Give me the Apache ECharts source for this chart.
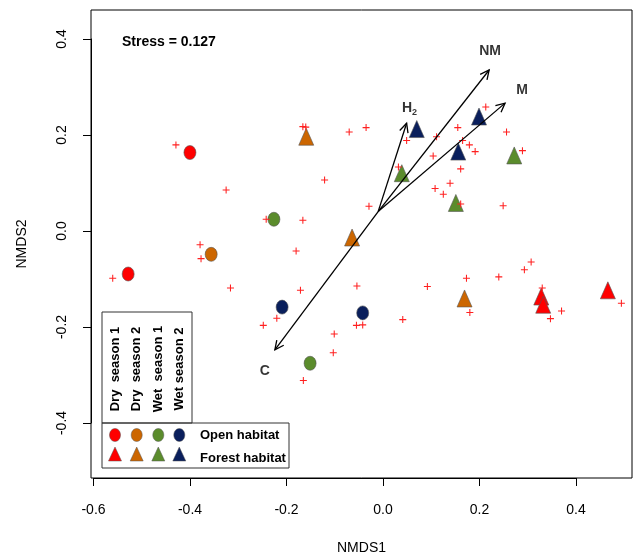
<!DOCTYPE html>
<html>
  <head>
    <meta charset="UTF-8">
    <title>NMDS ordination</title>
    <script src="https://cdn.jsdelivr.net/npm/echarts@6/dist/echarts.min.js"></script>
    <style>
      html, body { margin: 0; padding: 0; background: #fff; }
    </style>
  </head>
  <body>
    <div id="myChart" style="width: 635px;height:559px;"></div>
    <script type="text/javascript">
      // site scores (NMDS1, NMDS2)
      var dry1Open   = [[-0.400, 0.163], [-0.528, -0.090]];
      var dry2Open   = [[-0.356, -0.049]];
      var wet1Open   = [[-0.226, 0.024], [-0.151, -0.276]];
      var wet2Open   = [[-0.209, -0.159], [-0.042, -0.171]];
      var dry1Forest = [[0.328, -0.137], [0.332, -0.154], [0.466, -0.124]];
      var dry2Forest = [[-0.159, 0.196], [-0.064, -0.014], [0.169, -0.141]];
      var wet1Forest = [[0.039, 0.120], [0.151, 0.058], [0.272, 0.157]];
      var wet2Forest = [[0.070, 0.212], [0.199, 0.238], [0.156, 0.165]];

      // species scores
      var species = [
        [-0.429, 0.179], [-0.325, 0.085], [-0.242, 0.024], [-0.379, -0.029],
        [-0.377, -0.058], [-0.560, -0.099], [-0.316, -0.119], [-0.166, 0.217],
        [-0.160, 0.216], [-0.070, 0.206], [-0.035, 0.215], [0.049, 0.188],
        [0.032, 0.133], [-0.121, 0.106], [-0.029, 0.051], [-0.166, 0.022],
        [-0.180, -0.042], [0.213, 0.258], [0.155, 0.215], [0.111, 0.196],
        [0.165, 0.188], [0.179, 0.179], [0.191, 0.165], [0.104, 0.156],
        [0.256, 0.206], [0.289, 0.167], [0.161, 0.129], [0.139, 0.099],
        [0.108, 0.088], [0.125, 0.076], [0.161, 0.056], [0.249, 0.052],
        [-0.171, -0.124], [-0.054, -0.115], [0.092, -0.116], [-0.220, -0.182],
        [-0.248, -0.197], [-0.055, -0.197], [-0.042, -0.196], [0.041, -0.185],
        [-0.101, -0.215], [-0.103, -0.254], [-0.165, -0.312], [0.173, -0.099],
        [0.240, -0.096], [0.293, -0.081], [0.307, -0.065], [0.180, -0.170],
        [0.330, -0.119], [0.370, -0.167], [0.347, -0.183], [0.494, -0.151]
      ];

      // fitted vectors
      var vectorNames  = ['H2', 'NM', 'M', 'C'];
      var vectorOrigin = [-0.010, 0.040];
      var vectorTips   = [[0.049, 0.224], [0.220, 0.335], [0.253, 0.266], [-0.224, -0.248]];
      var vectorLabels = [[0.055, 0.256], [0.222, 0.374], [0.288, 0.294], [-0.245, -0.292]];

      var legendSeasons = ['Dry  season 1', 'Dry  season 2', 'Wet  season 1', 'Wet season 2'];
      var seasonColors  = ['#FF0000', '#CC6600', '#5B8C2C', '#0A1F5C'];
      var stressText = 'Stress = 0.127';

      var FONT = '"Liberation Sans", Arial, sans-serif';

      var myChart = echarts.init(document.getElementById('myChart'));

      function siteSeries(data, color, shape) {
        return {
          type: 'scatter',
          xAxisIndex: 0, yAxisIndex: 0,
          data: data,
          symbol: shape,
          symbolSize: shape === 'circle' ? [12, 14] : [15, 17],
          itemStyle: { color: color, borderColor: '#555', borderWidth: 0.6, opacity: 1 },
          silent: true,
          z: 2
        };
      }

      var arrowData = vectorTips.map(function (t) {
        return [vectorOrigin[0], vectorOrigin[1], t[0], t[1]];
      });

      // legend (drawn as graphics in pixel space)
      var colX = [115, 136.7, 158.3, 179.3];
      var legendGraphics = [
        { type: 'rect', shape: { x: 102, y: 312, width: 90, height: 111 },
          style: { stroke: '#333', fill: null, lineWidth: 1 } },
        { type: 'rect', shape: { x: 102, y: 423, width: 187, height: 45 },
          style: { stroke: '#333', fill: null, lineWidth: 1 } },
        { type: 'text', x: 200, y: 435,
          style: { text: 'Open habitat', fill: '#000', font: 'bold 13px ' + FONT, align: 'left', verticalAlign: 'middle' } },
        { type: 'text', x: 200, y: 458,
          style: { text: 'Forest habitat', fill: '#000', font: 'bold 13px ' + FONT, align: 'left', verticalAlign: 'middle' } },
        { type: 'text', x: 122, y: 42,
          style: { text: stressText, fill: '#000', font: 'bold 14px ' + FONT, align: 'left', verticalAlign: 'middle' } }
      ];
      legendSeasons.forEach(function (s, i) {
        legendGraphics.push({
          type: 'text', x: colX[i], y: 369, rotation: Math.PI / 2,
          style: { text: s, fill: '#000', font: 'bold 13px ' + FONT, align: 'center', verticalAlign: 'middle' }
        });
        legendGraphics.push({
          type: 'ellipse', shape: { cx: colX[i], cy: 435, rx: 5.5, ry: 6.5 },
          style: { fill: seasonColors[i], stroke: '#555', lineWidth: 0.5 }
        });
        legendGraphics.push({
          type: 'polygon',
          shape: { points: [[colX[i], 447], [colX[i] - 6.5, 461], [colX[i] + 6.5, 461]] },
          style: { fill: seasonColors[i], stroke: '#555', lineWidth: 0.5 }
        });
      });

      var option = {
        animation: false,
        backgroundColor: '#fff',
        textStyle: { fontFamily: FONT },
        grid: [
          // plotting box
          { left: 91, right: 3, top: 10, bottom: 81, show: true, borderColor: '#000', borderWidth: 1,
            backgroundColor: 'transparent', outerBoundsMode: 'none', containLabel: false },
          // tick range (-0.6..0.4 on both axes)
          { left: 93.5, right: 59, top: 39, bottom: 136, show: false, outerBoundsMode: 'none', containLabel: false }
        ],
        xAxis: [
          { gridIndex: 0, type: 'value', min: -0.605, max: 0.516,
            axisLine: { show: false }, axisTick: { show: false }, axisLabel: { show: false }, splitLine: { show: false },
            name: 'NMDS1', nameLocation: 'middle', nameGap: 63,
            nameTextStyle: { fontSize: 14, color: '#000', fontFamily: FONT } },
          { gridIndex: 1, type: 'value', min: -0.6, max: 0.4, interval: 0.2, offset: 55, position: 'bottom',
            axisLine: { show: true, onZero: false, lineStyle: { color: '#000', width: 1 } },
            axisTick: { show: true, length: 8, lineStyle: { color: '#000' } },
            axisLabel: { fontSize: 14, color: '#000', margin: 25, fontFamily: FONT,
              formatter: function (v) { return v.toFixed(1); } },
            splitLine: { show: false } }
        ],
        yAxis: [
          { gridIndex: 0, type: 'value', min: -0.515, max: 0.46,
            axisLine: { show: false }, axisTick: { show: false }, axisLabel: { show: false }, splitLine: { show: false },
            name: 'NMDS2', nameLocation: 'middle', nameGap: 62, nameRotate: 90,
            nameTextStyle: { fontSize: 14, color: '#000', fontFamily: FONT } },
          { gridIndex: 1, type: 'value', min: -0.4, max: 0.4, interval: 0.2, offset: 2.5, position: 'left',
            axisLine: { show: true, onZero: false, lineStyle: { color: '#000', width: 1 } },
            axisTick: { show: true, length: 8, lineStyle: { color: '#000' } },
            axisLabel: { fontSize: 14, color: '#000', margin: 22, rotate: 90, fontFamily: FONT,
              formatter: function (v) { return v.toFixed(1); } },
            splitLine: { show: false } }
        ],
        series: [
          siteSeries(dry1Open, seasonColors[0], 'circle'),
          siteSeries(dry2Open, seasonColors[1], 'circle'),
          siteSeries(wet1Open, seasonColors[2], 'circle'),
          siteSeries(wet2Open, seasonColors[3], 'circle'),
          siteSeries(dry1Forest, seasonColors[0], 'triangle'),
          siteSeries(dry2Forest, seasonColors[1], 'triangle'),
          siteSeries(wet1Forest, seasonColors[2], 'triangle'),
          siteSeries(wet2Forest, seasonColors[3], 'triangle'),
          {
            type: 'scatter',
            xAxisIndex: 0, yAxisIndex: 0,
            data: species,
            symbol: 'path://M0,3.4H8V4.6H0Z M3.4,0H4.6V8H3.4Z',
            symbolSize: 7,
            itemStyle: { color: '#FF2020', opacity: 1 },
            silent: true,
            z: 3
          },
          {
            type: 'custom',
            xAxisIndex: 0, yAxisIndex: 0,
            data: arrowData,
            silent: true,
            z: 4,
            renderItem: function (params, api) {
              var p0 = api.coord([api.value(0), api.value(1)]);
              var p1 = api.coord([api.value(2), api.value(3)]);
              var a = Math.atan2(p1[1] - p0[1], p1[0] - p0[0]);
              var L = 10, w = Math.PI / 7;
              var h1 = [p1[0] - L * Math.cos(a - w), p1[1] - L * Math.sin(a - w)];
              var h2 = [p1[0] - L * Math.cos(a + w), p1[1] - L * Math.sin(a + w)];
              return {
                type: 'group',
                children: [
                  { type: 'line', shape: { x1: p0[0], y1: p0[1], x2: p1[0], y2: p1[1] },
                    style: { stroke: '#000', lineWidth: 1.3 } },
                  { type: 'polyline', shape: { points: [h1, p1, h2] },
                    style: { stroke: '#000', fill: null, lineWidth: 1.3 } }
                ]
              };
            }
          },
          {
            type: 'scatter',
            xAxisIndex: 0, yAxisIndex: 0,
            data: vectorLabels.map(function (p, i) { return { name: vectorNames[i], value: p }; }),
            symbolSize: 0,
            silent: true,
            z: 5,
            label: {
              show: true, position: 'inside', color: '#000',
              fontSize: 14, fontWeight: 'bold', fontFamily: FONT,
              formatter: function (p) { return p.name === 'H2' ? 'H{sub|2}' : p.name; },
              rich: {
                sub: { fontSize: 9, fontWeight: 'bold', fontFamily: FONT, verticalAlign: 'bottom', padding: [9, 0, 0, 0] }
              }
            }
          }
        ],
        graphic: legendGraphics
      };

      myChart.setOption(option);
    </script>
  </body>
</html>
